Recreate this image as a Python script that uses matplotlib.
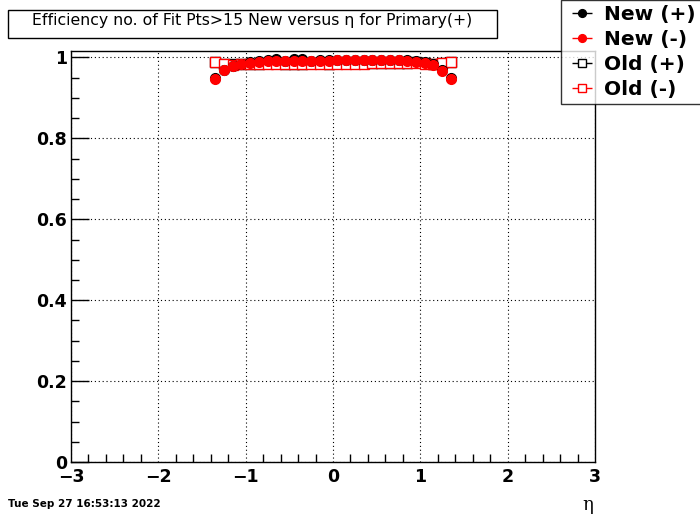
import matplotlib
matplotlib.use("Agg")
import matplotlib.pyplot as plt
from matplotlib.ticker import MultipleLocator, FuncFormatter
from matplotlib.patches import Rectangle
import numpy as np

# eta bin centres
eta = [-1.35, -1.25, -1.15, -1.05, -0.95, -0.85, -0.75, -0.65, -0.55, -0.45,
       -0.35, -0.25, -0.15, -0.05, 0.05, 0.15, 0.25, 0.35, 0.45, 0.55,
       0.65, 0.75, 0.85, 0.95, 1.05, 1.15, 1.25, 1.35]

new_pos = [0.950, 0.970, 0.980, 0.985, 0.989, 0.991, 0.993, 0.995, 0.992, 0.995,
           0.995, 0.992, 0.994, 0.993, 0.994, 0.994, 0.993, 0.994, 0.993, 0.994,
           0.993, 0.993, 0.993, 0.991, 0.988, 0.983, 0.968, 0.949]
new_neg = [0.948, 0.968, 0.978, 0.983, 0.987, 0.990, 0.991, 0.992, 0.991, 0.992,
           0.992, 0.991, 0.991, 0.992, 0.993, 0.993, 0.993, 0.993, 0.993, 0.993,
           0.993, 0.993, 0.992, 0.990, 0.987, 0.982, 0.967, 0.948]
old_pos = [0.990, 0.984, 0.984, 0.985, 0.985, 0.985, 0.986, 0.986, 0.985, 0.985,
           0.985, 0.986, 0.986, 0.985, 0.986, 0.986, 0.986, 0.987, 0.987, 0.987,
           0.987, 0.987, 0.987, 0.988, 0.986, 0.985, 0.987, 0.990]
old_neg = [0.989, 0.983, 0.982, 0.983, 0.984, 0.984, 0.984, 0.984, 0.984, 0.984,
           0.984, 0.984, 0.984, 0.984, 0.985, 0.985, 0.985, 0.985, 0.986, 0.986,
           0.986, 0.986, 0.986, 0.987, 0.985, 0.984, 0.986, 0.989]

W, H = 700, 514
fig = plt.figure(figsize=(W / 100, H / 100), dpi=100)
ax = fig.add_axes([71 / W, 1 - 462 / H, (595 - 71) / W, (462 - 51) / H])

xerr = 0.05
ax.errorbar(eta, old_pos, xerr=xerr, fmt="s", color="black", mfc="white",
            mec="black", ms=7.5, mew=1.0, elinewidth=1, capsize=0, label="Old (+)")
ax.errorbar(eta, old_neg, xerr=xerr, fmt="s", color="red", mfc="white",
            mec="red", ms=7.5, mew=1.0, elinewidth=1, capsize=0, label="Old (-)")
ax.errorbar(eta, new_pos, xerr=xerr, fmt="o", color="black", ms=7,
            elinewidth=1, capsize=0, label="New (+)")
ax.errorbar(eta, new_neg, xerr=xerr, fmt="o", color="red", ms=7,
            elinewidth=1, capsize=0, label="New (-)")

ax.set_xlim(-3, 3)
ax.set_ylim(0, 1.016)
ax.xaxis.set_major_locator(MultipleLocator(1))
ax.xaxis.set_minor_locator(MultipleLocator(0.2))
ax.yaxis.set_major_locator(MultipleLocator(0.2))
ax.yaxis.set_minor_locator(MultipleLocator(0.05))
ax.grid(True, which="major", color="black", linestyle=(0, (1, 2.5)), linewidth=0.8)
ax.tick_params(which="both", direction="in", top=False, right=False, width=1)
ax.tick_params(axis="y", which="major", length=13, labelsize=12.5, pad=3)
ax.tick_params(axis="y", which="minor", length=6)
ax.tick_params(axis="x", which="major", length=0, labelsize=12.5, pad=4)
ax.tick_params(axis="x", which="minor", length=5.5)
ax.yaxis.set_major_formatter(FuncFormatter(
    lambda v, p: "0" if v == 0 else ("1" if abs(v - 1) < 1e-9 else f"{v:.1f}")))
for lab in ax.get_xticklabels() + ax.get_yticklabels():
    lab.set_fontweight("bold")
for s in ax.spines.values():
    s.set_linewidth(1)

# title box
fig.patches.append(Rectangle((8 / W, 1 - 38 / H), (497 - 8) / W, 28 / H,
                             transform=fig.transFigure, fc="white", ec="black", lw=1))
fig.text(252 / W, 1 - 21 / H, "Efficiency no. of Fit Pts>15 New versus η for Primary(+)",
         ha="center", va="center", fontsize=11.3)
fig.text(8 / W, 1 - 504 / H, "Tue Sep 27 16:53:13 2022", fontsize=7.5,
         fontweight="bold", ha="left", va="center")
fig.text(588 / W, 1 - 505 / H, "η", fontsize=13, ha="center", va="center",
         family="DejaVu Serif")

handles, labels = ax.get_legend_handles_labels()
order = [2, 3, 0, 1]
leg = fig.legend([handles[i] for i in order], [labels[i] for i in order],
                 loc="upper left", bbox_to_anchor=(561 / W, 1.0),
                 prop=dict(size=14.5, weight="bold"), frameon=True, fancybox=False,
                 edgecolor="black", borderpad=0.25, labelspacing=0.3,
                 handlelength=1.6, handletextpad=0.3, borderaxespad=0,
                 markerscale=0.8)
leg.get_frame().set_linewidth(1)

fig.savefig("out.png", dpi=100)
